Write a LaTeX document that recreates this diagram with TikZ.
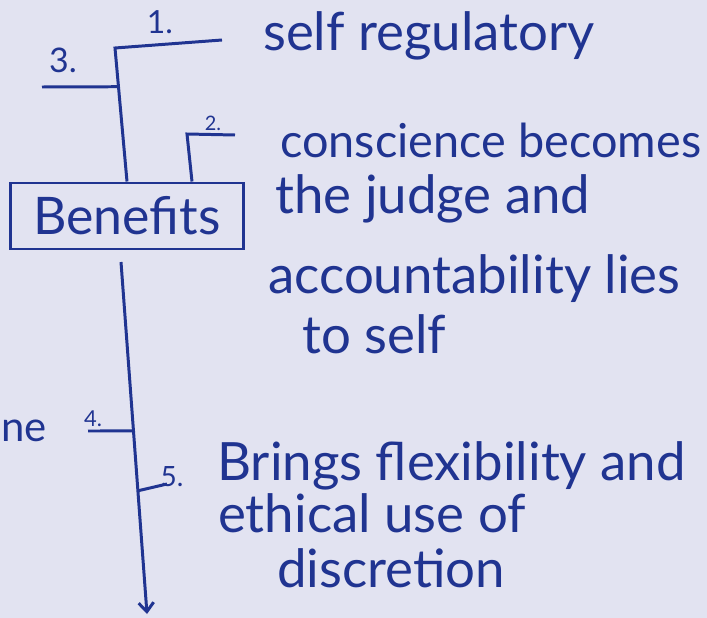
\documentclass[tikz,border=0pt]{standalone}
\usepackage{fontspec}
\setmainfont{Lato}
\usepackage{tikz}
\usetikzlibrary{arrows,arrows.meta,shapes}
\definecolor{ink}{RGB}{32,52,145}
\definecolor{paper}{RGB}{226,227,241}
\begin{document}
\begin{tikzpicture}[ink line/.style={draw=ink,line width=3pt},
  txt/.style={anchor=base west,text=ink,font=\fontsize{53}{58}\selectfont,inner sep=0pt},
  num/.style={text=ink,inner sep=0pt}]
\fill[paper] (0bp,0bp) rectangle (707bp,-618bp);
\useasboundingbox (0bp,0bp) rectangle (707bp,-618bp);
\node (B) at (127bp,-216bp)[ink line,rectangle,minimum width=233bp,minimum height=66bp,text=ink,font=\fontsize{52}{56}\selectfont] {Benefits};
\coordinate (c1) at (115bp,-48bp);
\coordinate (e1) at (222bp,-40bp);
\coordinate (e3) at (42bp,-87bp);
\coordinate (c2) at (187bp,-134bp);
\coordinate (e2) at (235bp,-135bp);
\coordinate (top) at (121bp,-262bp);
\coordinate (bot) at (147bp,-614bp);
\coordinate (e4) at (88bp,-431bp);
\coordinate (e5) at (167bp,-484bp);
\path (B.north) -- (c1) coordinate[pos=0.71] (j3);
\path (top) -- (bot) coordinate[pos=0.48] (j4) coordinate[pos=0.65] (j5);
\node (n1) at (160bp,-22bp)[num,font=\fontsize{32}{36}\selectfont] {1.};
\node (n2) at (213bp,-123bp)[num,font=\fontsize{20}{24}\selectfont] {2.};
\node (n3) at (63bp,-60bp)[num,font=\fontsize{34}{38}\selectfont] {3.};
\node (n4) at (93bp,-419bp)[num,font=\fontsize{22}{26}\selectfont] {4.};
\node (n5) at (172bp,-477bp)[num,font=\fontsize{28}{32}\selectfont] {5.};
\node (t1) at (263bp,-50bp)[txt] {self regulatory};
\node (t2a) at (280bp,-157bp)[txt,font=\fontsize{47}{52}\selectfont] {conscience becomes};
\node (t2b) at (275bp,-213bp)[txt] {the judge and};
\node (t2c) at (268bp,-293bp)[txt] {accountability lies};
\node (t2d) at (302bp,-353bp)[txt] {to self};
\node (t5a) at (217bp,-480bp)[txt] {Brings flexibility and};
\node (t5b) at (218bp,-532bp)[txt] {ethical use of};
\node (t5c) at (277bp,-587bp)[txt] {discretion};
\node (ne) at (47bp,-441bp)[txt,anchor=base east,font=\fontsize{42}{46}\selectfont] {ne};
\draw [ink line] (B.north) -- (c1) -- (e1);
\draw [ink line] (j3) -- (e3);
\draw [ink line] ([xshift=65bp]B.north) -- (c2) -- (e2);
\draw [-{Straight Barb[length=9bp,width=15bp]},ink line] (top) -- (bot);
\draw [ink line] (j4) -- (e4);
\draw [ink line] (j5) -- (e5);
\end{tikzpicture}
\end{document}
